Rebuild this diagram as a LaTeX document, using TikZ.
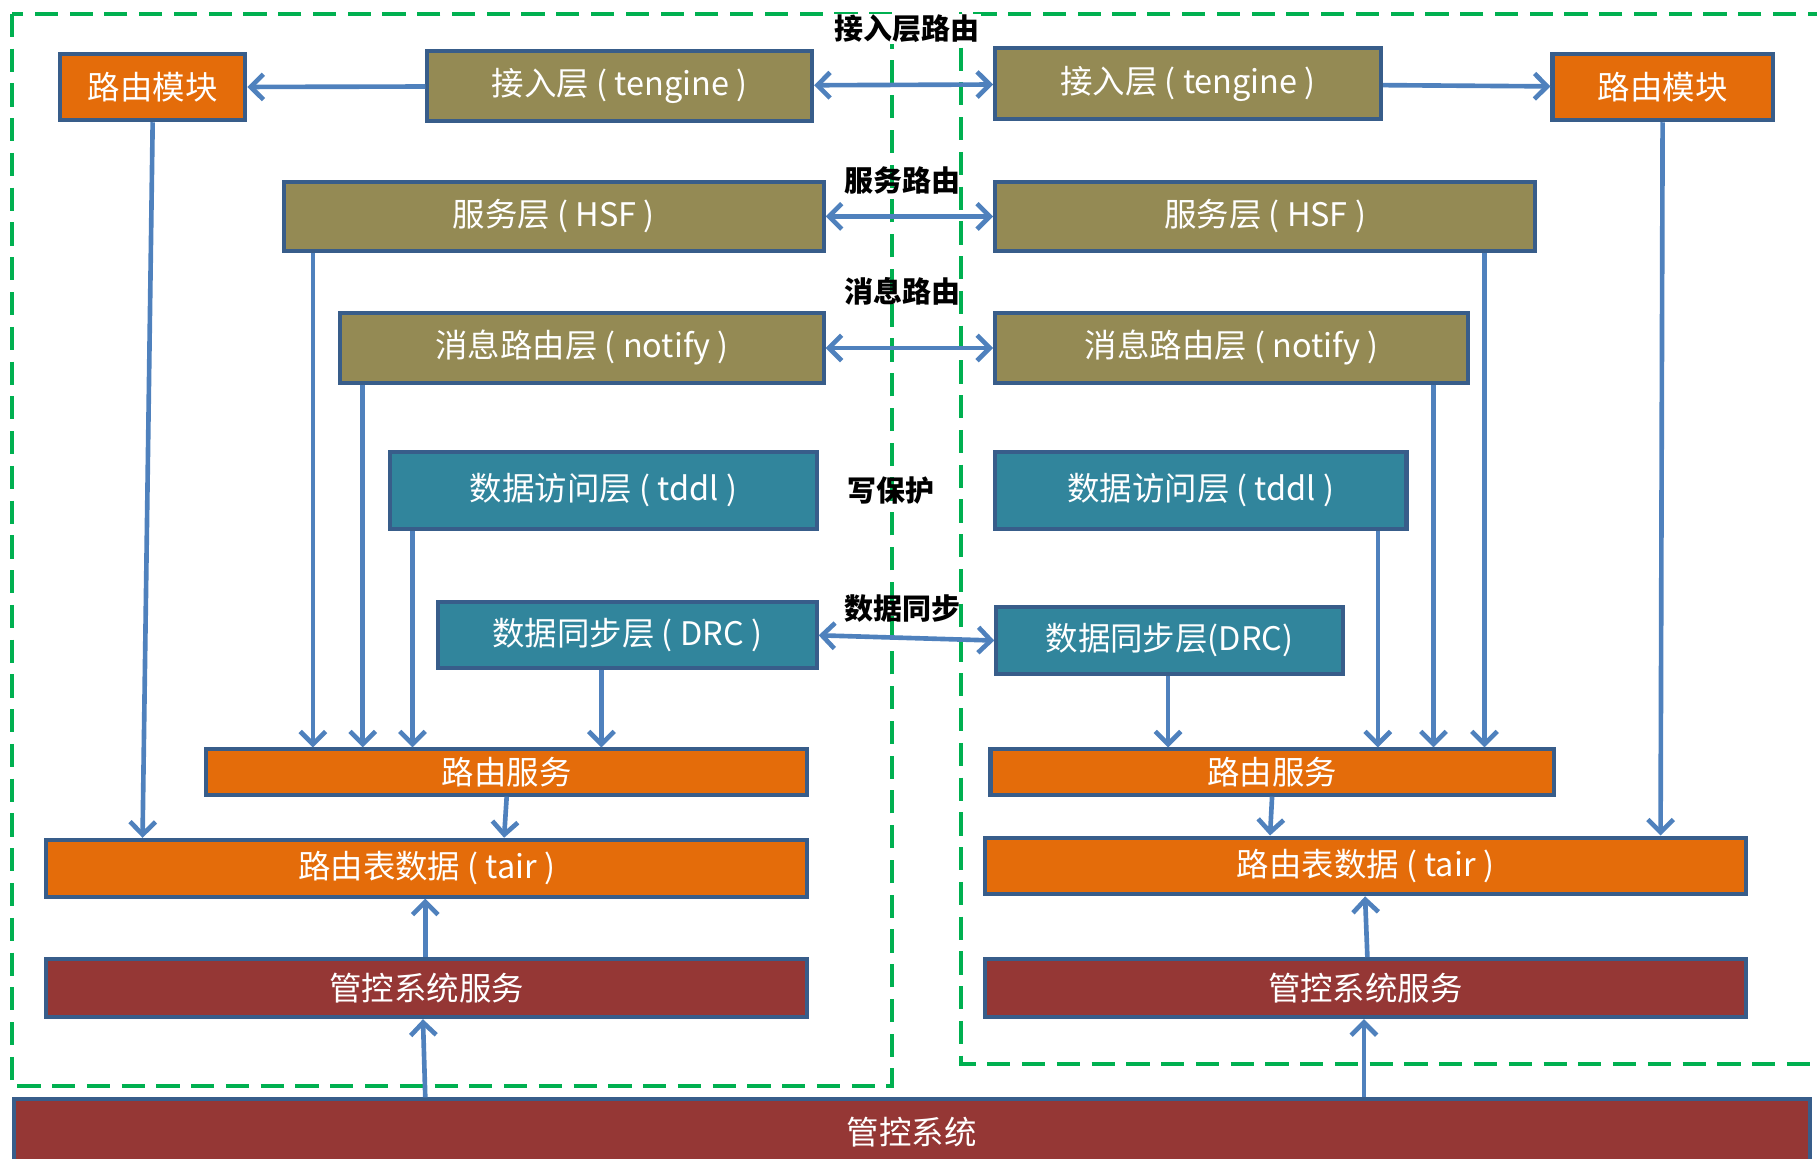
\documentclass[tikz,border=0pt]{standalone}
\usepackage{fontspec}
\setmainfont{Noto Sans CJK SC}
\usepackage{xcolor}
\usepackage{tikz}
\usetikzlibrary{arrows.meta,positioning}

\definecolor{edgeblue}{HTML}{385D8A}
\definecolor{arrowblue}{HTML}{4F81BD}
\definecolor{routeorange}{HTML}{E46C0A}
\definecolor{layerolive}{HTML}{948A54}
\definecolor{datateal}{HTML}{31859C}
\definecolor{mgmtred}{HTML}{953735}
\definecolor{zonegreen}{HTML}{00B050}

\begin{document}
\begin{tikzpicture}[
    x=1pt, y=-1pt,
    % box styles
    box/.style={rectangle, draw=edgeblue, line width=3.5pt, inner sep=0pt,
        anchor=north west, text=white, font=\fontsize{28}{32}\selectfont},
    route/.style={box, fill=routeorange},
    layer/.style={box, fill=layerolive},
    data/.style={box, fill=datateal},
    mgmt/.style={box, fill=mgmtred},
    % arrow styles
    arr/.style={-{Straight Barb[length=11pt,width=22pt]}, line width=4pt, draw=arrowblue},
    darr/.style={arr, {Straight Barb[length=11pt,width=22pt]}-{Straight Barb[length=11pt,width=22pt]}},
    zone/.style={draw=zonegreen, line width=3.5pt, dash pattern=on 20pt off 10pt},
    lbl/.style={font=\fontsize{25}{29}\selectfont\bfseries, text=black, inner sep=1pt}
]
    \clip (0,0) rectangle (1568,1000);

    % Zones
    \draw[zone] (10,12) rectangle (770,937);
    \draw[zone] (1580,12) -- (829,12) -- (829,918) -- (1580,918);

    % Left site
    \node[route, minimum width=160pt, minimum height=57pt] (modL) at (50,45) {路由模块};
    \node[layer, minimum width=332pt, minimum height=61pt] (accL) at (367,42) {接入层 ( tengine )};
    \node[layer, minimum width=466pt, minimum height=60pt] (hsfL) at (243,155) {服务层 ( HSF )};
    \node[layer, minimum width=417pt, minimum height=61pt] (ntfL) at (292,268) {消息路由层 ( notify )};
    \node[data, minimum width=368pt, minimum height=67pt] (ddlL) at (335,388) {数据访问层 ( tddl )};
    \node[data, minimum width=327pt, minimum height=57pt] (drcL) at (376,518) {数据同步层 ( DRC )};
    \node[route, minimum width=519pt, minimum height=39pt] (rsvL) at (176,645) {路由服务};
    \node[route, minimum width=657pt, minimum height=49pt] (tblL) at (38,723) {路由表数据 ( tair )};
    \node[mgmt, minimum width=657pt, minimum height=50pt] (mgsL) at (38,826) {管控系统服务};

    % Right site
    \node[layer, minimum width=333pt, minimum height=61pt] (accR) at (857,40) {接入层 ( tengine )};
    \node[route, minimum width=190pt, minimum height=57pt] (modR) at (1338,45) {路由模块};
    \node[layer, minimum width=466pt, minimum height=60pt] (hsfR) at (857,155) {服务层 ( HSF )};
    \node[layer, minimum width=408pt, minimum height=61pt] (ntfR) at (857,268) {消息路由层 ( notify )};
    \node[data, minimum width=355pt, minimum height=67pt] (ddlR) at (857,388) {数据访问层 ( tddl )};
    \node[data, minimum width=299pt, minimum height=58pt] (drcR) at (858,522) {数据同步层(DRC)};
    \node[route, minimum width=486pt, minimum height=39pt] (rsvR) at (853,645) {路由服务};
    \node[route, minimum width=657pt, minimum height=49pt] (tblR) at (848,721) {路由表数据 ( tair )};
    \node[mgmt, minimum width=657pt, minimum height=50pt] (mgsR) at (848,826) {管控系统服务};

    % Management system
    \node[mgmt, minimum width=1550pt, minimum height=57pt] (mgs) at (10,947) {管控系统};

    % Cross-site labels
    \node[lbl, fill=white] (lblAcc) at (783,25) {接入层路由};
    \node[lbl] (lblHsf) at (779,156) {服务路由};
    \node[lbl] (lblNtf) at (779,251) {消息路由};
    \node[lbl] (lblDdl) at (769,423) {写保护};
    \node[lbl] (lblDrc) at (779,525) {数据同步};

    % Horizontal links
    \draw[arr] (accL) -- (modL);
    \draw[darr] (accL) -- (accR);
    \draw[arr] (accR) -- (modR);
    \draw[darr] (hsfL) -- (hsfR);
    \draw[darr] (ntfL) -- (ntfR);
    \draw[darr] (drcL.east) -- (drcR.west);

    % Left site flows
    \draw[arr] (modL.south) -- ([xshift=85pt]tblL.north west);
    \draw[arr] ([xshift=27pt]hsfL.south west) -- ([xshift=94pt]rsvL.north west);
    \draw[arr] ([xshift=21pt]ntfL.south west) -- ([xshift=137pt]rsvL.north west);
    \draw[arr] ([xshift=21pt]ddlL.south west) -- ([xshift=180pt]rsvL.north west);
    \draw[arr] ([xshift=143pt]drcL.south west) -- ([xshift=343pt]rsvL.north west);
    \draw[arr] (rsvL.south) -- ([xshift=397pt]tblL.north west);
    \draw[arr] ([xshift=329pt]mgsL.north west) -- ([xshift=329pt]tblL.south west);
    \draw[arr] ([xshift=357pt]mgs.north west) -- ([xshift=327pt]mgsL.south west);

    % Right site flows
    \draw[arr] (modR.south) -- ([xshift=585pt]tblR.north west);
    \draw[arr] ([xshift=424pt]hsfR.south west) -- ([xshift=428pt]rsvR.north west);
    \draw[arr] ([xshift=380pt]ntfR.south west) -- ([xshift=384pt]rsvR.north west);
    \draw[arr] ([xshift=332pt]ddlR.south west) -- ([xshift=336pt]rsvR.north west);
    \draw[arr] ([xshift=150pt]drcR.south west) -- ([xshift=155pt]rsvR.north west);
    \draw[arr] (rsvR.south) -- ([xshift=248pt]tblR.north west);
    \draw[arr] ([xshift=332pt]mgsR.north west) -- ([xshift=330pt]tblR.south west);
    \draw[arr] ([xshift=1167pt]mgs.north west) -- ([xshift=329pt]mgsR.south west);
\end{tikzpicture}
\end{document}
